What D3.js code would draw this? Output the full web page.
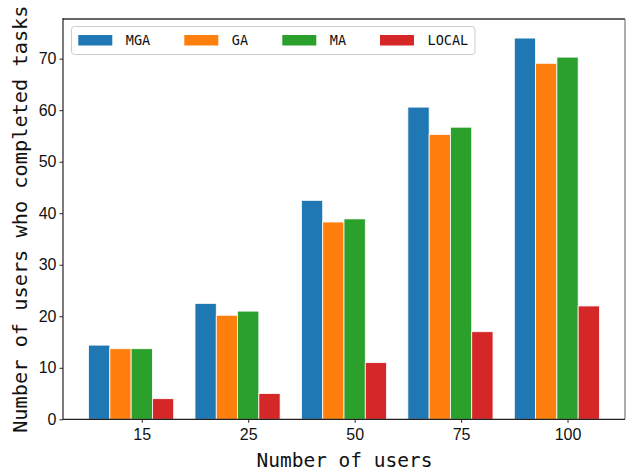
<!DOCTYPE html>
<html>
<head>
<meta charset="utf-8">
<script src="https://cdn.jsdelivr.net/npm/d3@7"></script>
<style>
  body { margin: 0; background: #fff; }
  svg { display: block; }
</style>
</head>
<body>
<svg id="chart" width="627" height="472"></svg>
<script>
// =========================
// DADES
// =========================
const categories = ["15", "25", "50", "75", "100"];
const seriesNames = ["MGA", "GA", "MA", "LOCAL"];
const mgaValues = [14.4, 22.5, 42.5, 60.6, 74.0];
const gaValues = [13.7, 20.2, 38.3, 55.3, 69.1];
const maValues = [13.7, 21.0, 38.9, 56.7, 70.3];
const localValues = [4, 5, 11, 17, 22];
const yTicks = [0, 10, 20, 30, 40, 50, 60, 70];

const colors = ["#1f77b4", "#ff7f0e", "#2ca02c", "#d62728"];
const allSeries = [mgaValues, gaValues, maValues, localValues];

// =========================
// ESCALES
// =========================
const svg = d3.select("#chart");
const plotLeft = 63, plotRight = 625, plotTop = 19, plotBottom = 419.3;
const barW = 0.2;

const x = d3.scaleLinear().domain([-0.34, 4.94]).range([plotLeft, plotRight]);
const y = d3.scaleLinear().domain([0, 77.7]).range([plotBottom, plotTop]);

// =========================
// BARRES
// =========================
allSeries.forEach((vals, k) => {
  svg.append("g")
    .selectAll("rect")
    .data(vals)
    .enter()
    .append("rect")
    .attr("x", (d, i) => x(i + k * barW - barW / 2))
    .attr("y", d => y(d))
    .attr("width", x(barW) - x(0))
    .attr("height", d => y(0) - y(d))
    .attr("fill", colors[k])
    .attr("stroke", "#fff")
    .attr("stroke-width", 0.8);
});

// =========================
// EIXOS
// =========================
const tickFont = "'Liberation Sans', Arial, sans-serif";

const xAxis = svg.append("g")
  .attr("transform", `translate(0,${plotBottom})`)
  .attr("font-family", tickFont)
  .attr("font-size", 16)
  .call(d3.axisBottom(x)
    .tickValues(categories.map((c, i) => i + 2 * barW))
    .tickFormat((d, i) => categories[i])
    .tickSize(3.5)
    .tickSizeOuter(0));

const yAxis = svg.append("g")
  .attr("transform", `translate(${plotLeft},0)`)
  .attr("font-family", tickFont)
  .attr("font-size", 16)
  .call(d3.axisLeft(y)
    .tickValues(yTicks)
    .tickSize(3.5)
    .tickSizeOuter(0));

[xAxis, yAxis].forEach(g => {
  g.attr("font-family", tickFont).attr("font-size", 16);
  g.select(".domain").remove();
  g.selectAll(".tick line").attr("stroke", "#222").attr("stroke-width", 1);
  g.selectAll(".tick text").attr("fill", "#111");
});
xAxis.selectAll(".tick text").attr("dy", "0.9em");
yAxis.selectAll(".tick text").attr("x", -6.5);

// marc
svg.append("line").attr("x1", plotLeft).attr("x2", plotRight).attr("y1", plotTop).attr("y2", plotTop)
  .attr("stroke", "#666").attr("stroke-width", 2);
svg.append("line").attr("x1", plotRight).attr("x2", plotRight).attr("y1", plotTop).attr("y2", plotBottom)
  .attr("stroke", "#777").attr("stroke-width", 1.2);
svg.append("line").attr("x1", plotLeft).attr("x2", plotLeft).attr("y1", plotTop - 1).attr("y2", plotBottom)
  .attr("stroke", "#222").attr("stroke-width", 1.2);
svg.append("line").attr("x1", plotLeft).attr("x2", plotRight).attr("y1", plotBottom).attr("y2", plotBottom)
  .attr("stroke", "#222").attr("stroke-width", 1.2);

// títols
const labelFont = "'DejaVu Sans Mono', 'Liberation Mono', monospace";
svg.append("text")
  .attr("x", (plotLeft + plotRight) / 2 + 0.5)
  .attr("y", 467)
  .attr("text-anchor", "middle")
  .style("font-family", labelFont)
  .style("font-size", "19.5px")
  .attr("fill", "#111")
  .text("Number of users");

svg.append("text")
  .attr("transform", `translate(27,${(plotTop + plotBottom) / 2}) rotate(-90)`)
  .attr("text-anchor", "middle")
  .style("font-family", labelFont)
  .style("font-size", "20.3px")
  .attr("fill", "#111")
  .text("Number of users who completed tasks");

// =========================
// LLEGENDA
// =========================
const legend = svg.append("g");
legend.append("rect")
  .attr("x", 71.5).attr("y", 26.5)
  .attr("width", 403.5).attr("height", 28)
  .attr("rx", 3)
  .attr("fill", "#fff")
  .attr("fill-opacity", 0.8)
  .attr("stroke", "#ccc")
  .attr("stroke-width", 1);

const legendX = [78.3, 184.3, 282.3, 380];
const items = legend.selectAll(".item")
  .data(seriesNames)
  .enter()
  .append("g")
  .attr("transform", (d, i) => `translate(${legendX[i]},35)`);

items.append("rect")
  .attr("width", 34).attr("height", 10.5)
  .attr("fill", (d, i) => colors[i]);

items.append("text")
  .attr("x", 47.5)
  .attr("y", 10.3)
  .style("font-family", labelFont)
  .style("font-size", "13.5px")
  .attr("fill", "#111")
  .text(d => d);
</script>
</body>
</html>
